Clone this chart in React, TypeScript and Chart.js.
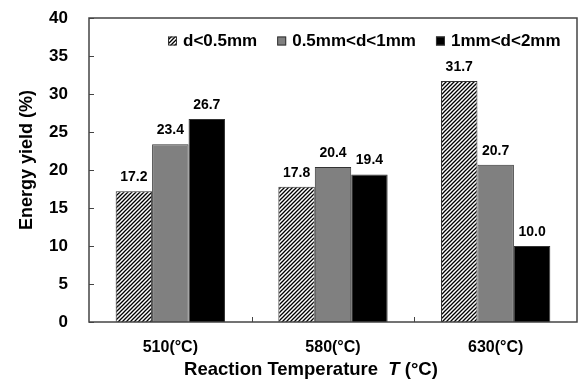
import React, { useEffect, useRef } from "react";
import { Chart, registerables } from "chart.js";

Chart.register(...registerables);

const categories = ["510(°C)", "580(°C)", "630(°C)"];
const seriesNames = ["d<0.5mm", "0.5mm<d<1mm", "1mm<d<2mm"];
const smallValues = [17.2, 17.8, 31.7];
const mediumValues = [23.4, 20.4, 20.7];
const largeValues = [26.7, 19.4, 10.0];
const yMin = 0;
const yMax = 40;
const yStep = 5;

const FONT = '"Liberation Sans", Arial, Helvetica, sans-serif';

function makeHatch(): CanvasPattern | string {
  const c = document.createElement("canvas");
  c.width = 4;
  c.height = 4;
  const g = c.getContext("2d");
  if (!g) return "#888";
  g.fillStyle = "#ffffff";
  g.fillRect(0, 0, 4, 4);
  g.strokeStyle = "#000000";
  g.lineWidth = 1.3;
  g.beginPath();
  g.moveTo(-1, 5);
  g.lineTo(5, -1);
  g.moveTo(-3, 3);
  g.lineTo(3, -3);
  g.moveTo(1, 7);
  g.lineTo(7, 1);
  g.stroke();
  const p = g.createPattern(c, "repeat");
  return p || "#888";
}

export default function App() {
  const ref = useRef<HTMLCanvasElement | null>(null);

  useEffect(() => {
    document.body.style.margin = "0";
    const canvas = ref.current;
    if (!canvas) return;
    const hatch = makeHatch();
    const fills: any[] = [hatch, "#808080", "#000000"];

    const overlay = {
      id: "overlay",
      afterDraw(chart: any) {
        const ctx = chart.ctx as CanvasRenderingContext2D;
        const area = chart.chartArea;
        const yScale = chart.scales.y;
        const xScale = chart.scales.x;
        ctx.save();

        // data labels
        ctx.fillStyle = "#000";
        ctx.font = `bold 14px ${FONT}`;
        ctx.textAlign = "center";
        ctx.textBaseline = "middle";
        chart.data.datasets.forEach((ds: any, di: number) => {
          const meta = chart.getDatasetMeta(di);
          meta.data.forEach((el: any, i: number) => {
            const v = ds.data[i] as number;
            ctx.fillText(v.toFixed(1), el.x, el.y - 14);
          });
        });

        // y tick marks (inside)
        ctx.strokeStyle = "#444";
        ctx.lineWidth = 1;
        for (let v = yMin; v <= yMax; v += yStep) {
          const y = Math.round(yScale.getPixelForValue(v)) + 0.5;
          ctx.beginPath();
          ctx.moveTo(area.left, y);
          ctx.lineTo(area.left + 5, y);
          ctx.stroke();
        }
        // x tick marks at category boundaries (inside)
        for (let i = 1; i < categories.length; i++) {
          const x =
            Math.round(
              (xScale.getPixelForValue(i - 1) + xScale.getPixelForValue(i)) / 2
            ) + 0.5;
          ctx.beginPath();
          ctx.moveTo(x, area.bottom);
          ctx.lineTo(x, area.bottom - 5);
          ctx.stroke();
        }

        // border
        ctx.strokeStyle = "#444";
        ctx.lineWidth = 1.5;
        ctx.strokeRect(area.left, area.top, area.right - area.left, area.bottom - area.top);

        // legend
        ctx.font = `bold 17px ${FONT}`;
        ctx.textAlign = "left";
        ctx.textBaseline = "middle";
        let lx = area.left + 79;
        const ly = area.top + 23;
        seriesNames.forEach((name, i) => {
          ctx.fillStyle = fills[i];
          ctx.fillRect(lx, ly - 4.5, 9, 9);
          ctx.strokeStyle = "#333";
          ctx.lineWidth = 1;
          ctx.strokeRect(lx + 0.5, ly - 4, 8, 8);
          ctx.fillStyle = "#000";
          ctx.fillText(name, lx + 15, ly);
          lx += 15 + ctx.measureText(name).width + 20;
        });

        // y axis title
        ctx.save();
        ctx.translate(27, 160);
        ctx.rotate(-Math.PI / 2);
        ctx.font = `bold 18px ${FONT}`;
        ctx.textAlign = "center";
        ctx.textBaseline = "middle";
        ctx.fillStyle = "#000";
        ctx.fillText("Energy yield (%)", 0, 0);
        ctx.restore();

        // x axis title with italic T
        const partA = "Reaction Temperature  ";
        const partB = "T";
        const partC = " (°C)";
        const fA = `bold 18.5px ${FONT}`;
        const fB = `italic bold 18.5px ${FONT}`;
        ctx.font = fA;
        const wA = ctx.measureText(partA).width;
        const wC = ctx.measureText(partC).width;
        ctx.font = fB;
        const wB = ctx.measureText(partB).width;
        const total = wA + wB + wC;
        let tx = 311 - total / 2;
        const ty = 370;
        ctx.fillStyle = "#000";
        ctx.textBaseline = "middle";
        ctx.font = fA;
        ctx.fillText(partA, tx, ty);
        tx += wA;
        ctx.font = fB;
        ctx.fillText(partB, tx, ty);
        tx += wB;
        ctx.font = fA;
        ctx.fillText(partC, tx, ty);

        ctx.restore();
      },
    };

    const chart = new Chart(canvas, {
      type: "bar",
      data: {
        labels: categories,
        datasets: [
          { label: seriesNames[0], data: smallValues, backgroundColor: hatch as any, borderColor: "#333", borderWidth: 1 },
          { label: seriesNames[1], data: mediumValues, backgroundColor: "#808080", borderColor: "#333", borderWidth: 1 },
          { label: seriesNames[2], data: largeValues, backgroundColor: "#000000", borderColor: "#333", borderWidth: 1 },
        ],
      },
      options: {
        responsive: false,
        animation: false,
        layout: { padding: { top: 18, right: 2, left: 0, bottom: 0 } },
        plugins: {
          legend: { display: false },
          tooltip: { enabled: false },
        },
        datasets: {
          bar: { categoryPercentage: 0.672, barPercentage: 1.0 },
        },
        scales: {
          x: {
            grid: { display: false, drawTicks: false },
            border: { display: false },
            ticks: {
              color: "#000",
              font: { family: FONT, size: 16, weight: "bold" },
              padding: 16,
              maxRotation: 0,
            },
            afterFit: (s: any) => {
              s.height = 63;
              s.paddingLeft = 0;
              s.paddingRight = 0;
            },
          },
          y: {
            min: yMin,
            max: yMax,
            grid: { display: false, drawTicks: false },
            border: { display: false },
            ticks: {
              stepSize: yStep,
              color: "#000",
              font: { family: FONT, size: 17, weight: "bold" },
              padding: 21,
            },
            afterFit: (s: any) => {
              s.width = 89;
              s.paddingTop = 0;
              s.paddingBottom = 0;
            },
          },
        },
      },
      plugins: [overlay],
    });

    return () => chart.destroy();
  }, []);

  return (
    <div style={{ width: 579, height: 385 }}>
      <canvas ref={ref} width={579} height={385} style={{ display: "block" }} />
    </div>
  );
}
